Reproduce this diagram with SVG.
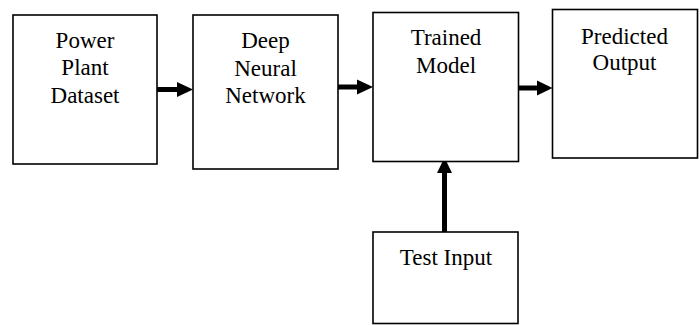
<svg xmlns="http://www.w3.org/2000/svg" width="700" height="325" viewBox="0 0 700 325">
  <style>
    .box { fill: #ffffff; stroke: #000000; stroke-width: 1.6; }
    .label { font-family: "Liberation Serif", "Times New Roman", serif; font-size: 23px; fill: #000000; text-anchor: middle; }
    .link { stroke: #000000; stroke-width: 5; fill: none; }
    .head { fill: #000000; }
  </style>
  <rect width="700" height="325" fill="#ffffff"/>

  <g id="connectors">
    <!-- Power Plant Dataset -> Deep Neural Network -->
    <line class="link" x1="157" y1="89.5" x2="178" y2="89.5"/>
    <polygon class="head" points="177,82 193,89.5 177,97"/>
    <!-- Deep Neural Network -> Trained Model -->
    <line class="link" x1="338" y1="87" x2="358" y2="87"/>
    <polygon class="head" points="357,79.5 373,87 357,94.5"/>
    <!-- Trained Model -> Predicted Output -->
    <line class="link" x1="518" y1="88" x2="538" y2="88"/>
    <polygon class="head" points="537,80.5 552.5,88 537,95.5"/>
    <!-- Test Input -> Trained Model -->
    <line class="link" x1="444.5" y1="232" x2="444.5" y2="172"/>
    <polygon class="head" points="437,173 444.5,157.5 452,173"/>
  </g>

  <g id="power-plant-dataset">
    <rect class="box" x="13" y="15" width="144" height="149"/>
    <text class="label" x="85" y="47.5">Power</text>
    <text class="label" x="85" y="75">Plant</text>
    <text class="label" x="85" y="103">Dataset</text>
  </g>

  <g id="deep-neural-network">
    <rect class="box" x="193" y="15" width="145" height="154"/>
    <text class="label" x="265.5" y="48">Deep</text>
    <text class="label" x="265.5" y="76">Neural</text>
    <text class="label" x="265.5" y="103">Network</text>
  </g>

  <g id="trained-model">
    <rect class="box" x="373" y="12.5" width="145.5" height="149"/>
    <text class="label" x="446" y="45">Trained</text>
    <text class="label" x="446" y="72.5">Model</text>
  </g>

  <g id="predicted-output">
    <rect class="box" x="552.5" y="9.5" width="145" height="148.5"/>
    <text class="label" x="624.5" y="43.5">Predicted</text>
    <text class="label" x="624.5" y="69.5">Output</text>
  </g>

  <g id="test-input">
    <rect class="box" x="373" y="232" width="145" height="91.5"/>
    <text class="label" x="446" y="265">Test Input</text>
  </g>
</svg>
